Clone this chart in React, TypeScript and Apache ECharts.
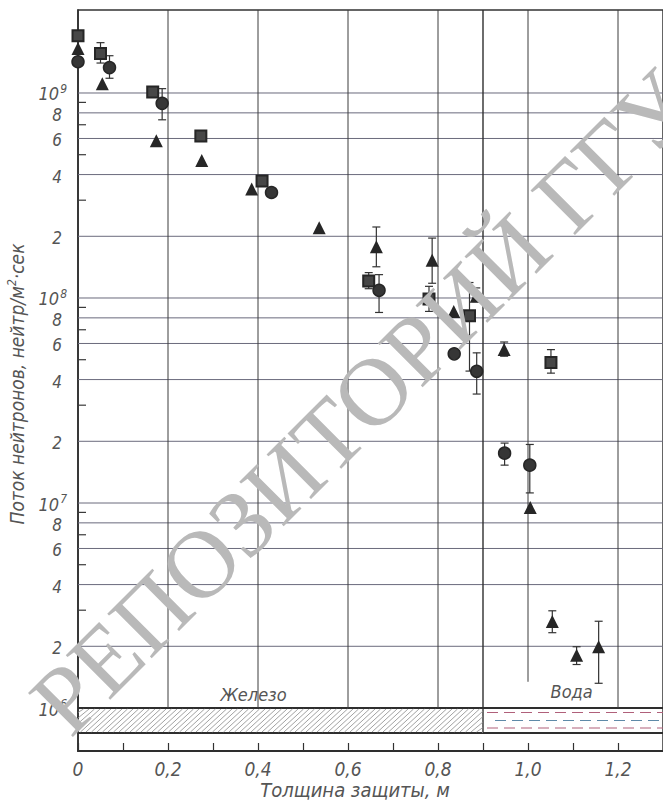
import React, { useEffect, useRef } from "react";
import * as echarts from "echarts";

// ---------------- data ----------------
const X_MIN = 0;
const X_MAX = 1.3;
const Y_MIN = 6.17e5;
const Y_MAX = 2.54e9;

const X_TICK_LABELS = ["0", "0,2", "0,4", "0,6", "0,8", "1,0", "1,2"];
const X_GRID_VALUES = [0.2, 0.4, 0.6, 0.8, 1.0, 1.2];
const IRON_WATER_BOUNDARY = 0.9;

const Y_GRID_VALUES = [1e6, 2e6, 4e6, 6e6, 8e6, 1e7, 2e7, 4e7, 6e7, 8e7, 1e8, 2e8, 4e8, 6e8, 8e8, 1e9];
const Y_LABELS = ["10|6", "2", "4", "6", "8", "10|7", "2", "4", "6", "8", "10|8", "2", "4", "6", "8", "10|9"];
const Y_MINOR_TICKS = [3e6, 5e6, 7e6, 9e6, 3e7, 5e7, 7e7, 9e7, 3e8, 5e8, 7e8, 9e8];

const BAND_BOTTOM = 7.55e5;
const BAND_TOP = 1e6;

const ANNOT_TEXTS = ["Железо", "Вода"];
const ANNOT_X = [0.39, 1.097];
const ANNOT_Y = [1.17e6, 1.2e6];

// squares
const SQ_X = [0, 0.05, 0.166, 0.273, 0.409, 0.646, 0.78, 0.87, 1.051];
const SQ_Y = [1.9e9, 1.56e9, 1.01e9, 6.17e8, 3.72e8, 1.21e8, 9.9e7, 8.2e7, 4.85e7];
const SQ_LO = [null, 1.4e9, null, null, null, 1.11e8, 8.6e7, 4.4e7, 4.3e7];
const SQ_HI = [null, 1.76e9, null, null, null, 1.33e8, 1.14e8, 1.19e8, 5.6e7];

// circles
const CI_X = [0, 0.07, 0.187, 0.43, 0.669, 0.836, 0.886, 0.948, 1.004];
const CI_Y = [1.42e9, 1.33e9, 8.9e8, 3.27e8, 1.09e8, 5.34e7, 4.39e7, 1.75e7, 1.53e7];
const CI_LO = [null, 1.18e9, 7.4e8, null, 8.5e7, null, 3.4e7, 1.53e7, 1.12e7];
const CI_HI = [null, 1.52e9, 1.05e9, null, 1.3e8, null, 5.4e7, 1.96e7, 1.93e7];

// triangles
const TR_X = [0, 0.054, 0.174, 0.275, 0.386, 0.536, 0.663, 0.787, 0.835, 0.885, 0.947, 1.005, 1.054, 1.108, 1.157];
const TR_Y = [1.65e9, 1.11e9, 5.85e8, 4.68e8, 3.4e8, 2.2e8, 1.78e8, 1.53e8, 8.6e7, 1.02e8, 5.6e7, 9.5e6, 2.64e6, 1.81e6, 1.99e6];
const TR_LO = [null, null, null, null, null, null, 1.42e8, 1.18e8, null, 9.6e7, 5.2e7, null, 2.33e6, 1.63e6, 1.32e6];
const TR_HI = [null, null, null, null, null, null, 2.22e8, 1.96e8, null, 1.12e8, 6.1e7, null, 2.98e6, 1.99e6, 2.65e6];

// ---------------- style ----------------
const FONT = "'Liberation Sans Narrow', 'DejaVu Sans Condensed', 'Liberation Sans', sans-serif";
const TEXT_COLOR = "#555";
const INK = "#262626";

function errData(xs: number[], lo: (number | null)[], hi: (number | null)[]) {
  const out: number[][] = [];
  xs.forEach((x, i) => {
    if (lo[i] != null && hi[i] != null) out.push([x, lo[i] as number, hi[i] as number]);
  });
  return out;
}

export default function App() {
  const ref = useRef<HTMLDivElement>(null);
  useEffect(() => {
    if (!ref.current) return;
    const chart = echarts.init(ref.current, null, { renderer: "svg" });

    const frameRender = (params: any, api: any) => {
      const children: any[] = [];
      const pTL = api.coord([X_MIN, Y_MAX]);
      const pBandTop = api.coord([X_MIN, BAND_TOP]);
      const pBandBot = api.coord([X_MIN, BAND_BOTTOM]);
      const xRight = api.coord([X_MAX, Y_MAX])[0];
      const x0 = pTL[0];
      const yTop = pTL[1];
      const yBT = pBandTop[1];
      const yBB = pBandBot[1];

      // horizontal grid lines + labels
      Y_GRID_VALUES.forEach((v, i) => {
        const p = api.coord([X_MIN, v]);
        const isBand = v === BAND_TOP;
        children.push({
          type: "line",
          shape: { x1: x0, y1: p[1], x2: xRight, y2: p[1] },
          style: { stroke: isBand ? "#2e2e2e" : "#6a6a7c", lineWidth: isBand ? 2 : 1 },
        });
        const lab = Y_LABELS[i];
        if (lab.indexOf("|") >= 0) {
          const [b, e] = lab.split("|");
          children.push({
            type: "text",
            x: x0 - 11,
            y: p[1] + 1,
            style: {
              text: `{b|${b}}{s|${e}}`,
              align: "right",
              verticalAlign: "middle",
              fill: TEXT_COLOR,
              rich: {
                b: { fontSize: 18, fontStyle: "italic", fontFamily: FONT, fill: TEXT_COLOR, lineHeight: 22 },
                s: { fontSize: 12, fontStyle: "italic", fontFamily: FONT, fill: TEXT_COLOR, lineHeight: 22, padding: [0, 0, 10, 1] },
              },
            },
          });
        } else {
          children.push({
            type: "text",
            x: x0 - 16,
            y: p[1] + 2,
            style: {
              text: lab,
              align: "right",
              verticalAlign: "middle",
              fill: TEXT_COLOR,
              fontSize: 17,
              fontStyle: "italic",
              fontFamily: FONT,
            },
          });
        }
      });

      // minor ticks on y axis
      Y_MINOR_TICKS.forEach((v) => {
        const p = api.coord([X_MIN, v]);
        children.push({
          type: "line",
          shape: { x1: x0, y1: p[1], x2: x0 + 8, y2: p[1] },
          style: { stroke: "#3a3a3a", lineWidth: 1.2 },
        });
      });

      // vertical grid lines
      const annotY = api.coord([X_MIN, ANNOT_Y[1]])[1];
      X_GRID_VALUES.forEach((v) => {
        const px = api.coord([v, Y_MAX])[0];
        const broken = Math.abs(v - 1.0) < 1e-9;
        children.push({
          type: "line",
          shape: { x1: px, y1: yTop, x2: px, y2: broken ? annotY - 10 : yBT },
          style: { stroke: "#3c3c3c", lineWidth: 1 },
        });
      });
      const pxB = api.coord([IRON_WATER_BOUNDARY, Y_MAX])[0];
      children.push({
        type: "line",
        shape: { x1: pxB, y1: yTop, x2: pxB, y2: yBB },
        style: { stroke: "#2e2e2e", lineWidth: 1.4 },
      });

      // band bottom line
      children.push({
        type: "line",
        shape: { x1: x0, y1: yBB, x2: xRight, y2: yBB },
        style: { stroke: "#2e2e2e", lineWidth: 2 },
      });

      // iron hatching
      const h = yBB - yBT;
      const step = 5.5;
      for (let s = x0 - h; s < pxB; s += step) {
        let sx = s, sy = yBB, ex = s + h, ey = yBT;
        if (sx < x0) { sy = yBB - (x0 - sx); sx = x0; }
        if (ex > pxB) { ey = yBB - (pxB - s); ex = pxB; }
        if (ex <= sx) continue;
        children.push({
          type: "line",
          shape: { x1: sx, y1: sy - 1, x2: ex, y2: ey + 1 },
          style: { stroke: "#8a8a8a", lineWidth: 0.8 },
        });
      }

      // water dashes
      const rows = [0.18, 0.5, 0.8];
      const cols = ["#b0607a", "#5f8aa8", "#b0607a"];
      rows.forEach((r, i) => {
        const y = yBT + r * h;
        children.push({
          type: "line",
          shape: { x1: pxB + 4 + (i % 2) * 8, y1: y, x2: xRight, y2: y },
          style: { stroke: cols[i], lineWidth: 1.1, lineDash: [11, 6] },
        });
      });

      // annotations
      ANNOT_TEXTS.forEach((t, i) => {
        const p = api.coord([ANNOT_X[i], ANNOT_Y[i]]);
        children.push({
          type: "text",
          x: p[0],
          y: p[1],
          style: {
            text: t,
            align: "center",
            verticalAlign: "middle",
            fill: TEXT_COLOR,
            fontSize: 18,
            fontStyle: "italic",
            fontFamily: FONT,
          },
        });
      });

      return { type: "group", children };
    };

    const errRender = (params: any, api: any) => {
      const x = api.value(0);
      const lo = api.coord([x, api.value(1)]);
      const hi = api.coord([x, api.value(2)]);
      const w = 4;
      const st = { stroke: "#333", lineWidth: 1.2 };
      return {
        type: "group",
        children: [
          { type: "line", shape: { x1: lo[0], y1: lo[1], x2: hi[0], y2: hi[1] }, style: st },
          { type: "line", shape: { x1: lo[0] - w, y1: lo[1], x2: lo[0] + w, y2: lo[1] }, style: st },
          { type: "line", shape: { x1: hi[0] - w, y1: hi[1], x2: hi[0] + w, y2: hi[1] }, style: st },
        ],
      };
    };

    const zip = (xs: number[], ys: number[]) => xs.map((x, i) => [x, ys[i]]);

    const option: any = {
      animation: false,
      backgroundColor: "#fff",
      grid: {
        left: 78,
        top: 10,
        width: 595,
        height: 741,
        show: true,
        borderColor: "#333",
        borderWidth: 1.5,
        backgroundColor: "transparent",
      },
      xAxis: {
        type: "value",
        min: X_MIN,
        max: X_MAX,
        interval: 0.1,
        axisLine: { onZero: false, lineStyle: { color: "#2e2e2e", width: 2 } },
        axisTick: { inside: true, length: 8, lineStyle: { color: "#333", width: 1.2 } },
        axisLabel: {
          formatter: (v: number) => {
            const i = Math.round(v * 10);
            return i % 2 === 0 && X_TICK_LABELS[i / 2] !== undefined ? X_TICK_LABELS[i / 2] : "";
          },
          fontSize: 19,
          fontStyle: "italic",
          fontFamily: FONT,
          color: TEXT_COLOR,
          margin: 8,
          showMaxLabel: false,
        },
        splitLine: { show: false },
      },
      yAxis: {
        type: "log",
        logBase: 10,
        min: Y_MIN,
        max: Y_MAX,
        axisLine: { show: true, lineStyle: { color: "#2e2e2e", width: 1.6 } },
        axisTick: { show: false },
        axisLabel: { show: false },
        splitLine: { show: false },
      },
      series: [
        {
          type: "custom",
          name: "frame",
          z: 1,
          silent: true,
          data: [[0.5, 1e7]],
          renderItem: frameRender,
        },
        {
          type: "custom",
          name: "err-sq",
          z: 3,
          data: errData(SQ_X, SQ_LO, SQ_HI),
          encode: { x: 0, y: [1, 2] },
          renderItem: errRender,
        },
        {
          type: "custom",
          name: "err-ci",
          z: 3,
          data: errData(CI_X, CI_LO, CI_HI),
          encode: { x: 0, y: [1, 2] },
          renderItem: errRender,
        },
        {
          type: "custom",
          name: "err-tr",
          z: 3,
          data: errData(TR_X, TR_LO, TR_HI),
          encode: { x: 0, y: [1, 2] },
          renderItem: errRender,
        },
        {
          type: "scatter",
          name: "squares",
          z: 4,
          symbol: "rect",
          symbolSize: 11,
          itemStyle: { color: "#474747", borderColor: INK, borderWidth: 2, opacity: 1 },
          data: zip(SQ_X, SQ_Y),
        },
        {
          type: "scatter",
          name: "circles",
          z: 4,
          symbol: "circle",
          symbolSize: 12,
          itemStyle: { color: "#363636", borderColor: INK, borderWidth: 1.5, opacity: 1 },
          data: zip(CI_X, CI_Y),
        },
        {
          type: "scatter",
          name: "triangles",
          z: 4,
          symbol: "triangle",
          symbolSize: 13,
          itemStyle: { color: INK, opacity: 1 },
          data: zip(TR_X, TR_Y),
        },
      ],
      graphic: [
        {
          type: "text",
          x: 17,
          y: 384,
          rotation: Math.PI / 2,
          style: {
            text: "{a|Поток нейтронов, нейтр/м}{s|2}{a|·сек}",
            align: "center",
            verticalAlign: "middle",
            fill: TEXT_COLOR,
            rich: {
              a: { fontSize: 19, fontStyle: "italic", fontFamily: FONT, fill: TEXT_COLOR, lineHeight: 22 },
              s: { fontSize: 12, fontStyle: "italic", fontFamily: FONT, fill: TEXT_COLOR, lineHeight: 22, padding: [0, 0, 10, 0] },
            },
          },
        },
        {
          type: "text",
          x: 355,
          y: 790,
          style: {
            text: "Толщина защиты, м",
            align: "center",
            verticalAlign: "middle",
            fill: TEXT_COLOR,
            fontSize: 20,
            fontStyle: "italic",
            fontFamily: FONT,
          },
        },
        {
          type: "text",
          x: 362,
          y: 402,
          rotation: (45 * Math.PI) / 180,
          z: 100,
          silent: true,
          style: {
            text: "РЕПОЗИТОРИЙ ГГУ",
            align: "center",
            verticalAlign: "middle",
            fill: "#b9b9b9",
            fontSize: 96,
            fontFamily: "'Liberation Serif', 'DejaVu Serif', serif",
          },
        },
      ],
    };

    chart.setOption(option);
    return () => chart.dispose();
  }, []);

  return (
    <div
      ref={ref}
      style={{ position: "fixed", left: 0, top: 0, width: 663, height: 803, background: "#fff" }}
    />
  );
}
